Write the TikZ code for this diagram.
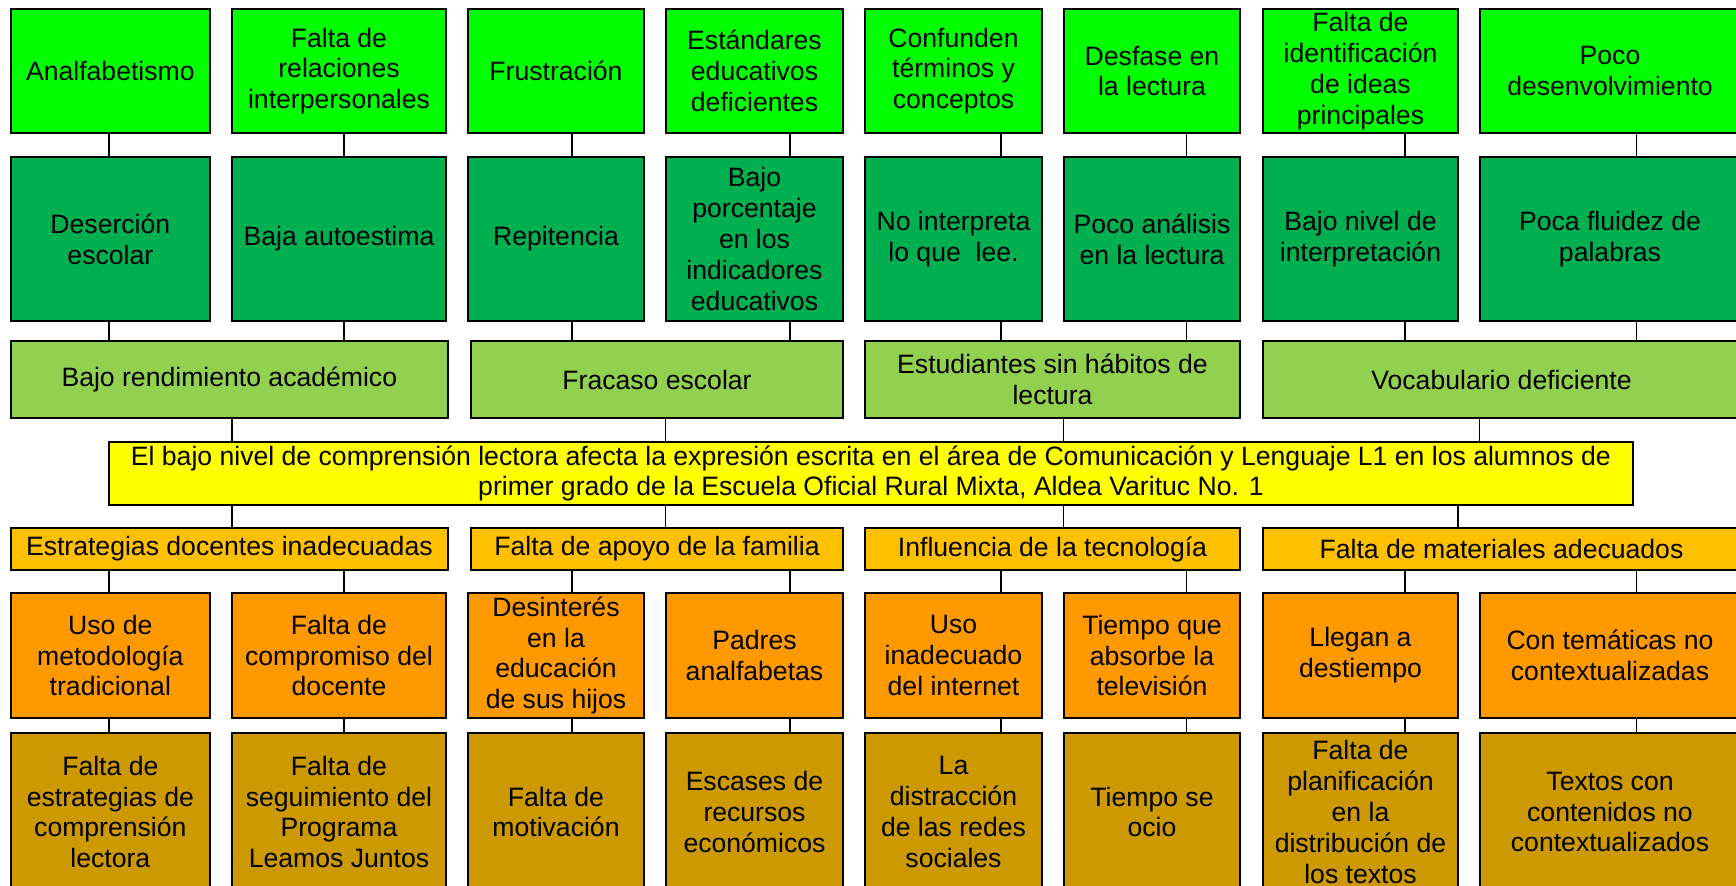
\documentclass[tikz,border=0pt]{standalone}
\usepackage{fontspec}
\setmainfont{Liberation Sans}
\usepackage{xcolor}
\usepackage{tikz}

\definecolor{verdeA}{HTML}{00FF00}
\definecolor{verdeB}{HTML}{00AF50}
\definecolor{verdeC}{HTML}{92D050}
\definecolor{amarillo}{HTML}{FFFF00}
\definecolor{oroA}{HTML}{FFC000}
\definecolor{naranja}{HTML}{FF9900}
\definecolor{oroB}{HTML}{CC9900}

\begin{document}
\begin{tikzpicture}[x=0.5pt, y=-0.5pt,
  caja/.style={draw, line width=0.95pt, align=center, inner sep=1pt,
    font=\fontsize{13.3}{15.4}\selectfont},
  filaA/.style={caja, fill=verdeA, minimum height=62pt},
  filaB/.style={caja, fill=verdeB, minimum height=82pt},
  filaC/.style={caja, fill=verdeC, minimum height=38.5pt},
  filaD/.style={caja, fill=oroA, minimum height=21pt},
  filaE/.style={caja, fill=naranja, minimum height=62.5pt},
  filaF/.style={caja, fill=oroB, minimum height=79pt},
  col1/.style={minimum width=99.65pt}, col2/.style={minimum width=107pt},
  col3/.style={minimum width=88pt}, col4/.style={minimum width=88.5pt},
  col5/.style={minimum width=88.5pt}, col6/.style={minimum width=88pt},
  col7/.style={minimum width=97.5pt}, col8/.style={minimum width=130pt},
  ancho1/.style={minimum width=218.65pt}, ancho2/.style={minimum width=186pt},
  ancho3/.style={minimum width=187.5pt}, ancho4/.style={minimum width=238.5pt},
  enlace/.style={line width=0.7pt}
]
  \path[use as bounding box, clip] (0,0) rectangle (1736,885);

  \node[filaA, col1] (efa1) at (110.35,71) {Analfabetismo};
  \node[filaA, col2] (efa2) at (339,71) {Falta de\\relaciones\\interpersonales};
  \node[filaA, col3] (efa3) at (556,71) {Frustración};
  \node[filaA, col4] (efa4) at (754.5,71) {Estándares\\educativos\\deficientes};
  \node[filaA, col5] (efa5) at (953.5,71) {Confunden\\términos y\\conceptos};
  \node[filaA, col6] (efa6) at (1152,71) {Desfase en\\la lectura};
  \node[filaA, col7] (efa7) at (1360.5,71)
    {Falta de\\identificación\\de ideas\\principales};
  \node[filaA, col8] (efa8) at (1610,71) {Poco\\desenvolvimiento};

  \node[filaB, col1] (efb1) at (110.35,239) {Deserción\\escolar};
  \node[filaB, col2] (efb2) at (339,239) {Baja autoestima};
  \node[filaB, col3] (efb3) at (556,239) {Repitencia};
  \node[filaB, col4] (efb4) at (754.5,239)
    {Bajo\\porcentaje\\en los\\indicadores\\educativos};
  \node[filaB, col5] (efb5) at (953.5,239) {No interpreta\\lo que\ \ lee.};
  \node[filaB, col6] (efb6) at (1152,239) {Poco análisis\\en la lectura};
  \node[filaB, col7] (efb7) at (1360.5,239) {Bajo nivel de\\interpretación};
  \node[filaB, col8] (efb8) at (1610,239) {Poca fluidez de\\palabras};

  \node[filaC, ancho1] (ef1) at (229.35,379.5) {Bajo rendimiento académico};
  \node[filaC, ancho2] (ef2) at (657,379.5) {Fracaso escolar};
  \node[filaC, ancho3] (ef3) at (1052.5,379.5) {Estudiantes sin hábitos de\\lectura};
  \node[filaC, ancho4] (ef4) at (1501.5,379.5) {Vocabulario deficiente};

  \node[caja, fill=amarillo, minimum width=762pt, minimum height=31.5pt] (prob)
    at (871,473.5) {El bajo nivel de comprensión lectora afecta la expresión
    escrita en el área de Comunicación y Lenguaje L1 en los alumnos de\\primer
    grado de la Escuela Oficial Rural Mixta, Aldea Varituc No. 1};

  \node[filaD, ancho1] (ca1) at (229.35,549) {Estrategias docentes inadecuadas};
  \node[filaD, ancho2] (ca2) at (657,549) {Falta de apoyo de la familia};
  \node[filaD, ancho3] (ca3) at (1052.5,549) {Influencia de la tecnología};
  \node[filaD, ancho4] (ca4) at (1501.5,549) {Falta de materiales adecuados};

  \node[filaE, col1] (cb1) at (110.35,655.5) {Uso de\\metodología\\tradicional};
  \node[filaE, col2] (cb2) at (339,655.5) {Falta de\\compromiso del\\docente};
  \node[filaE, col3] (cb3) at (556,655.5)
    {Desinterés\\en la\\educación\\de sus hijos};
  \node[filaE, col4] (cb4) at (754.5,655.5) {Padres\\analfabetas};
  \node[filaE, col5] (cb5) at (953.5,655.5) {Uso\\inadecuado\\del internet};
  \node[filaE, col6] (cb6) at (1152,655.5) {Tiempo que\\absorbe la\\televisión};
  \node[filaE, col7] (cb7) at (1360.5,655.5) {Llegan a\\destiempo};
  \node[filaE, col8] (cb8) at (1610,655.5) {Con temáticas no\\contextualizadas};

  \node[filaF, col1] (cc1) at (110.35,812)
    {Falta de\\estrategias de\\comprensión\\lectora};
  \node[filaF, col2] (cc2) at (339,812)
    {Falta de\\seguimiento del\\Programa\\Leamos Juntos};
  \node[filaF, col3] (cc3) at (556,812) {Falta de\\motivación};
  \node[filaF, col4] (cc4) at (754.5,812) {Escases de\\recursos\\económicos};
  \node[filaF, col5] (cc5) at (953.5,812)
    {La\\distracción\\de las redes\\sociales};
  \node[filaF, col6] (cc6) at (1152,812) {Tiempo se\\ocio};
  \node[filaF, col7] (cc7) at (1360.5,812)
    {Falta de\\planificación\\en la\\distribución de\\los textos};
  \node[filaF, col8] (cc8) at (1610,812)
    {Textos con\\contenidos no\\contextualizados};

  \foreach \i/\x/\g in {1/109/1, 2/344/1, 3/572/2, 4/790/2,
      5/1001/3, 6/1186.6/3, 7/1405/4, 8/1636.5/4} {
    \coordinate (k\i) at (\x,0);
    \draw[enlace] (efa\i.south -| k\i) -- (efb\i.north -| k\i);
    \draw[enlace] (efb\i.south -| k\i) -- (ef\g.north -| k\i);
    \draw[enlace] (ca\g.south -| k\i) -- (cb\i.north -| k\i);
    \draw[enlace] (cb\i.south -| k\i) -- (cc\i.north -| k\i);
  }
  \foreach \g/\x/\y in {1/232/232, 2/665.7/665.7, 3/1063.7/1063.7,
      4/1479.6/1458} {
    \coordinate (s\g) at (\x,0);
    \coordinate (t\g) at (\y,0);
    \draw[enlace] (ef\g.south -| s\g) -- (prob.north -| s\g);
    \draw[enlace] (prob.south -| t\g) -- (ca\g.north -| t\g);
  }
\end{tikzpicture}
\end{document}
